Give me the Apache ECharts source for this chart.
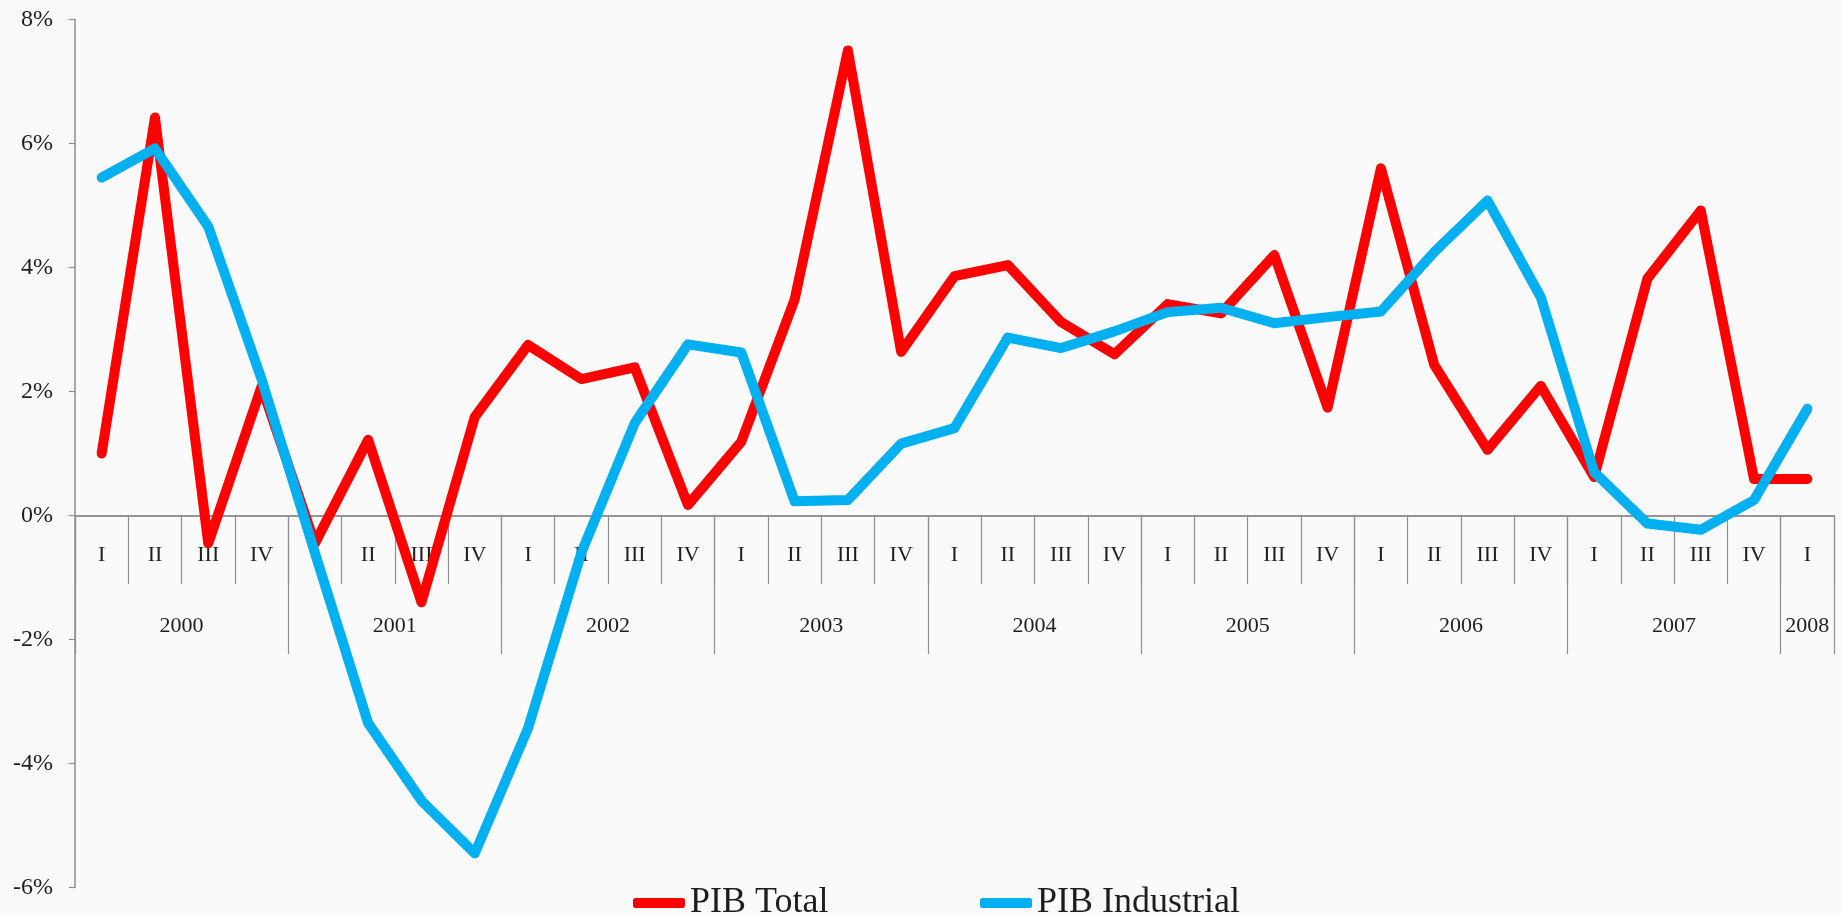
<!DOCTYPE html>
<html>
<head>
<meta charset="utf-8">
<script src="https://cdn.jsdelivr.net/npm/echarts@6/dist/echarts.min.js"></script>
<style>
html,body{margin:0;padding:0;background:#fafafa;}
#chart{width:1842px;height:915px;}
</style>
</head>
<body>
<div id="chart"></div>
<script>
// Quarter categories (year + quarter, the axis shows only the quarter)
const categories = [
  '2000 I','2000 II','2000 III','2000 IV',
  '2001 I','2001 II','2001 III','2001 IV',
  '2002 I','2002 II','2002 III','2002 IV',
  '2003 I','2003 II','2003 III','2003 IV',
  '2004 I','2004 II','2004 III','2004 IV',
  '2005 I','2005 II','2005 III','2005 IV',
  '2006 I','2006 II','2006 III','2006 IV',
  '2007 I','2007 II','2007 III','2007 IV',
  '2008 I'
];
// Year groups: labels and group boundaries (in quarter units)
const years = ['2000','2001','2002','2003','2004','2005','2006','2007','2008'];
const yearBounds = [0, 4, 8, 12, 16, 20, 24, 28, 32, 33];

// Series values (%)
const pibTotal = [
  1.0, 6.42, -0.45, 2.08,
  -0.45, 1.22, -1.4, 1.59,
  2.75, 2.2, 2.39, 0.17,
  1.19, 3.48, 7.5, 2.64,
  3.86, 4.04, 3.12, 2.6,
  3.41, 3.26, 4.2, 1.74,
  5.6, 2.43, 1.06, 2.09,
  0.62, 3.82, 4.92, 0.59,
  0.59
];
const pibIndustrial = [
  5.45, 5.92, 4.66, 2.2,
  -0.6, -3.35, -4.6, -5.45,
  -3.43, -0.6, 1.49, 2.76,
  2.63, 0.23, 0.25, 1.16,
  1.41, 2.87, 2.7, 2.97,
  3.28, 3.35, 3.1, 3.2,
  3.29, 4.25, 5.08, 3.52,
  0.7, -0.13, -0.23, 0.25,
  1.72
];

// Y axis range
const yMin = -6, yMax = 8, yStep = 2;

const W = 1842, H = 915;
const gridLeft = 75, gridRight = 8, gridTop = 19.5, gridBottom = 27.5;
const plotH = H - gridTop - gridBottom;
const zeroY = gridTop + plotH * yMax / (yMax - yMin);

const yearCenters = years.map((y, i) => (yearBounds[i] + yearBounds[i + 1]) / 2);
const font = '"Liberation Serif", "DejaVu Serif", serif';
const axisGray = '#8e8e8e';
const textColor = '#1e1e1e';

const chart = echarts.init(document.getElementById('chart'), null, {renderer: 'canvas'});
chart.setOption({
  backgroundColor: '#fafafa',
  animation: false,
  grid: [
    {left: gridLeft, right: gridRight, top: gridTop, bottom: gridBottom, containLabel: false},
    {left: gridLeft, right: gridRight, top: gridTop, height: zeroY - gridTop, containLabel: false}
  ],
  legend: [
    {
      left: 628, top: 880, itemWidth: 52, itemHeight: 10, icon: 'roundRect',
      data: ['PIB Total'],
      textStyle: {fontFamily: font, fontSize: 36, color: textColor}
    },
    {
      left: 975, top: 880, itemWidth: 52, itemHeight: 10, icon: 'roundRect',
      data: ['PIB Industrial'],
      textStyle: {fontFamily: font, fontSize: 36, color: textColor}
    }
  ],
  xAxis: [
    {
      gridIndex: 0, type: 'category', data: categories, boundaryGap: true, show: false
    },
    {
      gridIndex: 1,
      type: 'category',
      data: categories,
      boundaryGap: true,
      position: 'bottom',
      axisLine: {show: true, onZero: false, lineStyle: {color: axisGray, width: 1.5}},
      axisTick: {show: true, interval: 0, length: 68.5, lineStyle: {color: axisGray, width: 1.2}},
      axisLabel: {
        interval: 0, margin: 28.5, fontFamily: font, fontSize: 22, color: textColor,
        formatter: v => v.split(' ')[1]
      },
      splitLine: {show: false}
    },
    {
      gridIndex: 1,
      type: 'value',
      min: 0, max: 33,
      position: 'bottom',
      axisLine: {show: true, onZero: false, lineStyle: {color: axisGray, width: 1.5}},
      axisTick: {show: true, customValues: yearBounds, length: 138.5, lineStyle: {color: axisGray, width: 1.2}},
      axisLabel: {
        customValues: yearCenters, margin: 99.5, fontFamily: font, fontSize: 22, color: textColor,
        formatter: v => years[yearCenters.indexOf(v)]
      },
      splitLine: {show: false}
    }
  ],
  yAxis: [
    {
      gridIndex: 0,
      type: 'value',
      min: yMin, max: yMax, interval: yStep,
      axisLine: {show: true, onZero: false, lineStyle: {color: axisGray, width: 1.5}},
      axisTick: {show: true, length: 6, lineStyle: {color: axisGray, width: 1.2}},
      axisLabel: {formatter: '{value}%', margin: 22, fontFamily: font, fontSize: 24, color: textColor},
      splitLine: {show: false}
    },
    {
      gridIndex: 1, type: 'value', min: 0, max: 1, show: false,
      axisLine: {onZero: false}, splitLine: {show: false}
    }
  ],
  series: [
    {
      name: 'PIB Total', type: 'line', xAxisIndex: 0, yAxisIndex: 0,
      data: pibTotal, showSymbol: false, symbol: 'none',
      itemStyle: {color: '#ff0000'},
      lineStyle: {color: '#ff0000', width: 10, cap: 'round', join: 'round'}
    },
    {
      name: 'PIB Industrial', type: 'line', xAxisIndex: 0, yAxisIndex: 0,
      data: pibIndustrial, showSymbol: false, symbol: 'none',
      itemStyle: {color: '#00b0f0'},
      lineStyle: {color: '#00b0f0', width: 10, cap: 'round', join: 'round'}
    }
  ]
});
</script>
</body>
</html>
